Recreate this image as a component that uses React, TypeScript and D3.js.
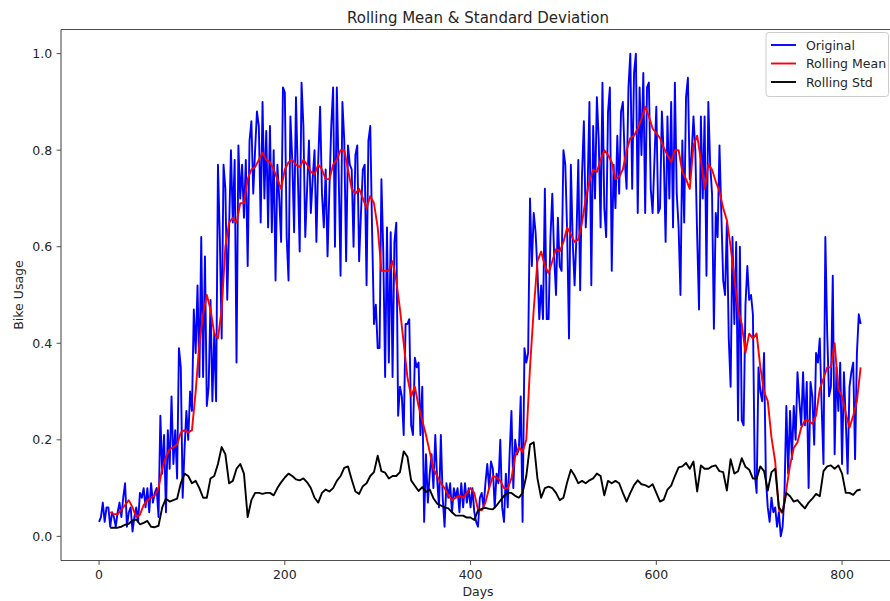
import React from "react";
import * as d3 from "d3";

// ---- Data ----
// Original bike usage, one value every 2 days starting at day 0
const ORIGINAL_STEP = 2;
const original: number[] = [
  // d0 - d66
  0.03, 0.04, 0.07, 0.03, 0.06, 0.06, 0.02, 0.05, 0.04, 0.02, 0.05, 0.07, 0.04, 0.08, 0.11, 0.02, 0.05,
  0.06, 0.01, 0.04, 0.06, 0.03, 0.09, 0.08, 0.1, 0.06, 0.1, 0.05, 0.11, 0.07, 0.09, 0.1, 0.04, 0.25,
  // d68 - d130
  0.13, 0.21, 0.05, 0.22, 0.14, 0.29, 0.15, 0.22, 0.12, 0.39, 0.35, 0.08, 0.18, 0.26, 0.2, 0.3,
  0.26, 0.47, 0.38, 0.52, 0.33, 0.62, 0.33, 0.58, 0.27, 0.31, 0.49, 0.28, 0.42, 0.28, 0.77, 0.62,
  // d132 - d200
  0.41, 0.77, 0.72, 0.49, 0.64, 0.8, 0.65, 0.78, 0.36, 0.81, 0.7, 0.77, 0.66, 0.78, 0.56, 0.82, 0.86, 0.71,
  0.8, 0.88, 0.85, 0.65, 0.9, 0.7, 0.84, 0.64, 0.85, 0.63, 0.8, 0.53, 0.77, 0.7, 0.61, 0.93, 0.92,
  // d202 - d260
  0.62, 0.53, 0.87, 0.78, 0.63, 0.91, 0.75, 0.59, 0.94, 0.85, 0.62, 0.72, 0.82, 0.67, 0.74,
  0.8, 0.61, 0.78, 0.89, 0.71, 0.64, 0.76, 0.58, 0.72, 0.85, 0.93, 0.6, 0.93, 0.75, 0.54,
  // d262 - d330
  0.9, 0.82, 0.57, 0.81, 0.77, 0.76, 0.6, 0.79, 0.81, 0.57, 0.67, 0.76, 0.77, 0.52, 0.82, 0.85, 0.63, 0.44,
  0.48, 0.39, 0.39, 0.74, 0.59, 0.33, 0.64, 0.36, 0.63, 0.33, 0.61, 0.65, 0.25, 0.31, 0.29, 0.21, 0.44,
  // d332 - d400
  0.44, 0.45, 0.23, 0.21, 0.37, 0.35, 0.36, 0.21, 0.31, 0.03, 0.17, 0.07, 0.13, 0.17, 0.1, 0.21, 0.12, 0.06,
  0.21, 0.08, 0.02, 0.11, 0.08, 0.11, 0.05, 0.1, 0.08, 0.1, 0.05, 0.11, 0.06, 0.11, 0.07, 0.1, 0.06,
  // d402 - d470
  0.1, 0.05, 0.03, 0.02, 0.08, 0.09, 0.06, 0.11, 0.15, 0.1, 0.155, 0.14, 0.06, 0.13, 0.11, 0.2, 0.06, 0.03,
  0.13, 0.06, 0.17, 0.26, 0.1, 0.2, 0.17, 0.18, 0.29, 0.03, 0.39, 0.36, 0.38, 0.7, 0.56, 0.67, 0.63,
  // d472 - d540
  0.55, 0.45, 0.52, 0.45, 0.72, 0.45, 0.45, 0.62, 0.71, 0.58, 0.5, 0.66, 0.56, 0.55, 0.8, 0.77, 0.63, 0.41,
  0.77, 0.61, 0.52, 0.62, 0.78, 0.51, 0.75, 0.86, 0.64, 0.72, 0.9, 0.52, 0.85, 0.7, 0.91, 0.82, 0.64,
  // d542 - d610
  0.94, 0.68, 0.62, 0.88, 0.93, 0.55, 0.77, 0.68, 0.83, 0.71, 0.88, 0.9, 0.78, 0.72, 0.93, 1.0, 0.72, 0.96,
  1.0, 0.67, 0.93, 0.79, 0.96, 0.67, 0.93, 0.94, 0.72, 0.67, 0.78, 0.89, 0.67, 0.68, 0.88, 0.79, 0.61,
  // d612 - d680
  0.87, 0.7, 0.9, 0.64, 0.94, 0.71, 0.64, 0.5, 0.82, 0.65, 0.91, 0.95, 0.74, 0.79, 0.87, 0.8, 0.62, 0.47,
  0.87, 0.7, 0.87, 0.54, 0.9, 0.77, 0.71, 0.43, 0.67, 0.62, 0.81, 0.67, 0.53, 0.5, 0.65, 0.41, 0.31,
  // d682 - d750
  0.62, 0.44, 0.61, 0.24, 0.6, 0.24, 0.23, 0.48, 0.56, 0.49, 0.5, 0.46, 0.13, 0.09, 0.35, 0.3, 0.28, 0.38,
  0.12, 0.06, 0.03, 0.08, 0.05, 0.06, 0.02, 0.05, 0.0, 0.02, 0.09, 0.27, 0.13, 0.26, 0.16, 0.27, 0.2,
  // d752 - d820
  0.34, 0.28, 0.23, 0.34, 0.23, 0.32, 0.1, 0.32, 0.29, 0.19, 0.38, 0.36, 0.41, 0.27, 0.15, 0.62, 0.42, 0.29,
  0.31, 0.54, 0.17, 0.35, 0.26, 0.36, 0.15, 0.34, 0.24, 0.13, 0.31, 0.34, 0.36, 0.16, 0.38, 0.46, 0.44,
];

// Rolling statistics, one value every 4 days starting at day 12
const ROLLING_START = 12;
const ROLLING_STEP = 4;
const rollingMean: number[] = [
  0.05, 0.046, 0.046, 0.055, 0.065, 0.075, 0.06, 0.04, 0.045, 0.065, 0.075, 0.08, 0.085, 0.1, 0.14, 0.165,
  0.18, 0.185, 0.19, 0.215, 0.22, 0.215, 0.22, 0.3, 0.4, 0.46, 0.5, 0.47, 0.42, 0.41, 0.47, 0.6,
  0.65, 0.66, 0.65, 0.69, 0.69, 0.74, 0.76, 0.765, 0.78, 0.795, 0.78, 0.775, 0.76, 0.74, 0.72, 0.76,
  0.775, 0.78, 0.77, 0.765, 0.78, 0.77, 0.755, 0.75, 0.77, 0.76, 0.74, 0.74, 0.77, 0.78, 0.8, 0.8,
  0.76, 0.72, 0.71, 0.72, 0.7, 0.68, 0.705, 0.69, 0.64, 0.55, 0.55, 0.55, 0.57, 0.53, 0.47, 0.4,
  0.33, 0.29, 0.31, 0.27, 0.24, 0.21, 0.175, 0.14, 0.125, 0.11, 0.1, 0.085, 0.075, 0.08, 0.085, 0.08,
  0.09, 0.1, 0.09, 0.055, 0.054, 0.07, 0.1, 0.125, 0.122, 0.115, 0.1, 0.1, 0.12, 0.165, 0.185, 0.175,
  0.2, 0.35, 0.47, 0.57, 0.59, 0.56, 0.545, 0.57, 0.595, 0.59, 0.61, 0.64, 0.625, 0.61, 0.615, 0.65,
  0.7, 0.735, 0.76, 0.755, 0.78, 0.8, 0.79, 0.775, 0.74, 0.745, 0.76, 0.8, 0.825, 0.83, 0.845, 0.865,
  0.89, 0.87, 0.845, 0.835, 0.825, 0.805, 0.79, 0.775, 0.8, 0.8, 0.755, 0.74, 0.72, 0.81, 0.83, 0.78,
  0.72, 0.77, 0.76, 0.735, 0.715, 0.68, 0.655, 0.6, 0.535, 0.47, 0.44, 0.38, 0.42, 0.41, 0.42, 0.35,
  0.3, 0.28, 0.205, 0.155, 0.055, 0.048, 0.097, 0.147, 0.183, 0.195, 0.225, 0.24, 0.24, 0.233, 0.25, 0.305,
  0.327, 0.35, 0.35, 0.4, 0.305, 0.29, 0.255, 0.225, 0.25, 0.28, 0.35,
];
const rollingStd: number[] = [
  0.018, 0.018, 0.018, 0.02, 0.024, 0.026, 0.033, 0.035, 0.025, 0.028, 0.032, 0.02, 0.019, 0.022, 0.06, 0.078,
  0.072, 0.075, 0.078, 0.11, 0.13, 0.125, 0.11, 0.115, 0.1, 0.08, 0.08, 0.12, 0.125, 0.15, 0.185, 0.17,
  0.11, 0.115, 0.14, 0.15, 0.13, 0.04, 0.075, 0.09, 0.09, 0.088, 0.09, 0.09, 0.085, 0.1, 0.112, 0.122,
  0.13, 0.125, 0.118, 0.116, 0.12, 0.112, 0.1, 0.08, 0.07, 0.09, 0.097, 0.093, 0.1, 0.115, 0.125, 0.142,
  0.145, 0.118, 0.093, 0.088, 0.104, 0.11, 0.125, 0.133, 0.167, 0.135, 0.132, 0.12, 0.125, 0.125, 0.133, 0.176,
  0.165, 0.116, 0.105, 0.094, 0.102, 0.092, 0.097, 0.079, 0.068, 0.064, 0.06, 0.058, 0.05, 0.043, 0.043, 0.043,
  0.039, 0.039, 0.034, 0.054, 0.057, 0.059, 0.057, 0.056, 0.064, 0.074, 0.084, 0.09, 0.09, 0.084, 0.08, 0.09,
  0.125, 0.19, 0.195, 0.12, 0.08, 0.1, 0.103, 0.1, 0.09, 0.075, 0.08, 0.112, 0.138, 0.126, 0.11, 0.115,
  0.11, 0.116, 0.12, 0.13, 0.125, 0.085, 0.115, 0.11, 0.115, 0.11, 0.09, 0.072, 0.09, 0.106, 0.116, 0.108,
  0.106, 0.102, 0.108, 0.09, 0.072, 0.076, 0.097, 0.105, 0.125, 0.143, 0.145, 0.152, 0.14, 0.155, 0.093, 0.147,
  0.14, 0.14, 0.145, 0.147, 0.135, 0.133, 0.095, 0.16, 0.13, 0.135, 0.162, 0.144, 0.138, 0.12, 0.12, 0.145,
  0.135, 0.095, 0.133, 0.14, 0.06, 0.05, 0.09, 0.083, 0.072, 0.075, 0.066, 0.058, 0.07, 0.078, 0.088, 0.083,
  0.135, 0.145, 0.147, 0.14, 0.147, 0.13, 0.09, 0.09, 0.086, 0.095, 0.097,
];

const xTicks = [0, 200, 400, 600, 800];
const yTicks = [0.0, 0.2, 0.4, 0.6, 0.8, 1.0];
const TITLE = "Rolling Mean & Standard Deviation";
const X_LABEL = "Days";
const Y_LABEL = "Bike Usage";
const legendItems = [
  { label: "Original", color: "blue" },
  { label: "Rolling Mean", color: "red" },
  { label: "Rolling Std", color: "black" },
];

const W = 890;
const H = 601;
const FONT = "'DejaVu Sans', 'Liberation Sans', sans-serif";

export default function App() {
  const left = 61;
  const right = 895;
  const top = 29.5;
  const bottom = 560.5;

  const x = d3.scaleLinear().domain([-41, 857]).range([left, right]);
  const y = d3.scaleLinear().domain([-0.05, 1.05]).range([bottom, top]);

  const origPts: [number, number][] = original.map((v, i) => [i * ORIGINAL_STEP, v]);
  const meanPts: [number, number][] = rollingMean.map((v, i) => [ROLLING_START + i * ROLLING_STEP, v]);
  const stdPts: [number, number][] = rollingStd.map((v, i) => [ROLLING_START + i * ROLLING_STEP, v]);

  const line = d3
    .line<[number, number]>()
    .x((d) => x(d[0]))
    .y((d) => y(d[1]));

  const fmt = d3.format(".1f");
  const textColor = "#262626";
  const spine = "#4d4d4d";

  // legend geometry
  const legRight = 888.5;
  const legLeft = 766;
  const legTop = 32.5;
  const rowH = 18.5;
  const legH = 64;

  return (
    <svg
      width={W}
      height={H}
      style={{ position: "absolute", left: 0, top: 0, background: "white" }}
      fontFamily={FONT}
    >
      <rect x={0} y={0} width={W} height={H} fill="white" />
      <defs>
        <clipPath id="plotClip">
          <rect x={left} y={top} width={right - left} height={bottom - top} />
        </clipPath>
      </defs>

      {/* title */}
      <text x={(left + right) / 2} y={23} textAnchor="middle" fontSize={15} fill={textColor}>
        {TITLE}
      </text>

      {/* data lines */}
      <g clipPath="url(#plotClip)" fill="none" strokeLinejoin="round" strokeWidth={1.9}>
        <path d={line(origPts) || ""} stroke="blue" />
        <path d={line(meanPts) || ""} stroke="red" />
        <path d={line(stdPts) || ""} stroke="black" />
      </g>

      {/* spines */}
      <g stroke={spine} strokeWidth={1.1} fill="none">
        <line x1={left} y1={top} x2={right} y2={top} />
        <line x1={left} y1={bottom} x2={right} y2={bottom} />
        <line x1={left} y1={top} x2={left} y2={bottom} />
        <line x1={right} y1={top} x2={right} y2={bottom} />
      </g>

      {/* x ticks */}
      {xTicks.map((t) => (
        <g key={"x" + t}>
          <line x1={x(t)} x2={x(t)} y1={bottom} y2={bottom + 4.4} stroke={spine} strokeWidth={1} />
          <text x={x(t)} y={578.5} textAnchor="middle" fontSize={12.5} fill={textColor}>
            {String(t)}
          </text>
        </g>
      ))}
      <text x={(left + right) / 2} y={596} textAnchor="middle" fontSize={12.5} fill={textColor}>
        {X_LABEL}
      </text>

      {/* y ticks */}
      {yTicks.map((t) => (
        <g key={"y" + t}>
          <line x1={left - 4.4} x2={left} y1={y(t)} y2={y(t)} stroke={spine} strokeWidth={1} />
          <text
            x={left - 8.8}
            y={y(t)}
            textAnchor="end"
            dominantBaseline="central"
            fontSize={12.5}
            fill={textColor}
          >
            {fmt(t)}
          </text>
        </g>
      ))}
      <text
        transform={`translate(18, ${(top + bottom) / 2}) rotate(-90)`}
        textAnchor="middle"
        dominantBaseline="central"
        fontSize={12.5}
        fill={textColor}
      >
        {Y_LABEL}
      </text>

      {/* legend */}
      <rect
        x={legLeft}
        y={legTop}
        width={legRight - legLeft}
        height={legH}
        rx={3}
        fill="white"
        fillOpacity={0.8}
        stroke="#cccccc"
        strokeWidth={1}
      />
      {legendItems.map((it, i) => {
        const cy = legTop + 12.5 + i * rowH;
        return (
          <g key={it.label}>
            <line x1={legLeft + 5} x2={legLeft + 30} y1={cy} y2={cy} stroke={it.color} strokeWidth={1.9} />
            <text x={legLeft + 40} y={cy} dominantBaseline="central" fontSize={12.5} fill={textColor}>
              {it.label}
            </text>
          </g>
        );
      })}
    </svg>
  );
}
